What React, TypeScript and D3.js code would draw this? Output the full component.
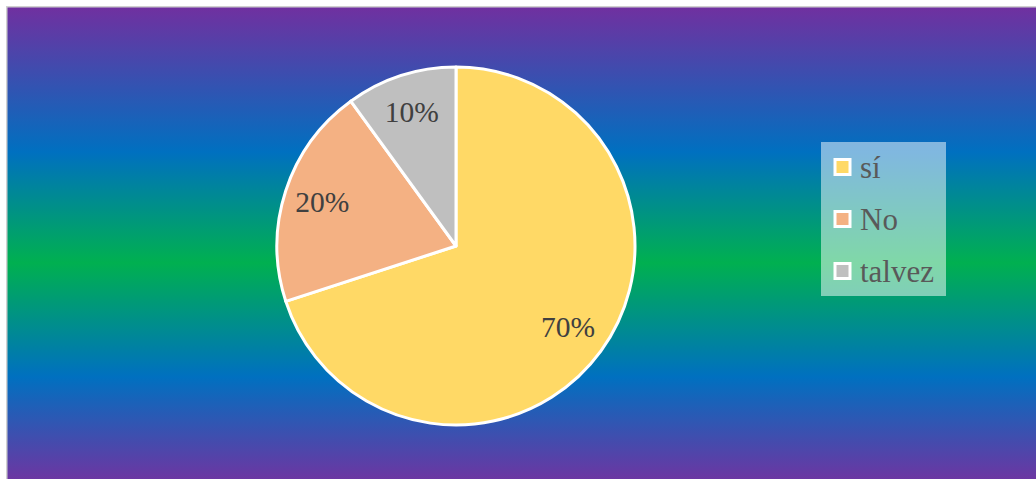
import React from "react";
import * as d3 from "d3";

const categories = ["sí", "No", "talvez"];
const values = [70, 20, 10];
const labels = ["70%", "20%", "10%"];
const colors = ["#FFD966", "#F4B183", "#BFBFBF"];

const W = 1036;
const H = 479;

export default function App() {
  const cx = 456;
  const cy = 246;
  const r = 179;
  const pie = d3.pie<number>().sort(null).startAngle(0).endAngle(2 * Math.PI);
  const arcs = pie(values);
  const arcGen = d3.arc<d3.PieArcDatum<number>>().innerRadius(0).outerRadius(r);
  const labelArc = d3
    .arc<d3.PieArcDatum<number>>()
    .innerRadius(r * 0.78)
    .outerRadius(r * 0.78);

  const legendX = 821;
  const legendY = 142;
  const legendW = 125;
  const legendH = 154;
  const rowY = d3.scalePoint<string>().domain(categories).range([167, 271]);

  return (
    <div style={{ position: "absolute", left: 0, top: 0 }}>
      <svg width={W} height={H} style={{ display: "block" }}>
        <defs>
          <linearGradient id="bg" gradientUnits="userSpaceOnUse" x1="0" y1="7" x2="0" y2="479">
            <stop offset="0" stopColor="#7030A0" />
            <stop offset="0.307" stopColor="#0070C0" />
            <stop offset="0.542" stopColor="#00B050" />
            <stop offset="0.784" stopColor="#0070C0" />
            <stop offset="1" stopColor="#6C36A2" />
          </linearGradient>
        </defs>
        <rect x={0} y={0} width={W} height={H} fill="#ffffff" />
        <rect
          x={6.75}
          y={6.75}
          width={W + 20}
          height={H + 20}
          fill="url(#bg)"
          stroke="#D0D0D0"
          strokeWidth={1.5}
        />
        <g transform={`translate(${cx},${cy})`}>
          {arcs.map((a, i) => (
            <path key={i} d={arcGen(a) || ""} fill={colors[i]} stroke="#ffffff" strokeWidth={3} strokeLinejoin="round" />
          ))}
          {arcs.map((a, i) => {
            const [lx, ly] = labelArc.centroid(a);
            return (
              <text
                key={"l" + i}
                x={lx - 1}
                y={ly + 9}
                textAnchor="middle"
                fontFamily="'Liberation Serif', 'Times New Roman', serif"
                fontSize={29.5}
                fill="#404040"
              >
                {labels[i]}
              </text>
            );
          })}
        </g>
        <rect x={legendX} y={legendY} width={legendW} height={legendH} fill="#ffffff" fillOpacity={0.5} />
        {categories.map((c, i) => {
          const y = rowY(c) as number;
          return (
            <g key={c}>
              <rect x={835} y={y - 7.5} width={15} height={15} fill={colors[i]} stroke="#ffffff" strokeWidth={3} />
              <text
                x={860}
                y={y + 10.5}
                fontFamily="'Liberation Serif', 'Times New Roman', serif"
                fontSize={31}
                fill="#595959"
              >
                {c}
              </text>
            </g>
          );
        })}
      </svg>
    </div>
  );
}
